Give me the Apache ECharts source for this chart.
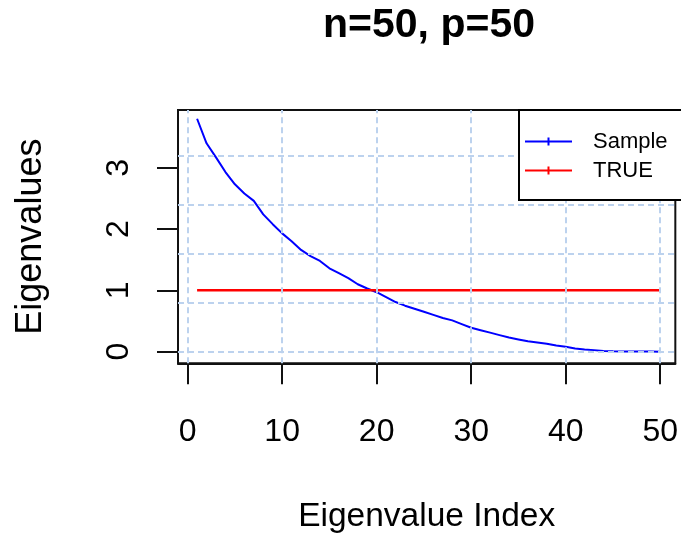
<!DOCTYPE html>
<html>
<head>
<meta charset="utf-8">
<script src="https://cdn.jsdelivr.net/npm/echarts@6/dist/echarts.min.js"></script>
<style>
  html, body { margin: 0; padding: 0; background: #fff; }
  #chart { width: 681px; height: 539px; }
</style>
</head>
<body>
<div id="chart"></div>
<script>
// ---- data ----
const indices = [1,2,3,4,5,6,7,8,9,10,11,12,13,14,15,16,17,18,19,20,21,22,23,24,25,26,27,28,29,30,31,32,33,34,35,36,37,38,39,40,41,42,43,44,45,46,47,48,49,50];
const sampleVals = [3.80,3.40,3.17,2.93,2.73,2.58,2.46,2.24,2.08,1.93,1.80,1.66,1.56,1.48,1.36,1.28,1.20,1.10,1.03,0.97,0.89,0.81,0.75,0.70,0.65,0.60,0.55,0.51,0.45,0.39,0.35,0.31,0.27,0.23,0.20,0.17,0.15,0.13,0.10,0.08,0.05,0.035,0.025,0.012,0.005,0.003,0.002,0.001,0.0005,0];
const trueVals = [1,1,1,1,1,1,1,1,1,1,1,1,1,1,1,1,1,1,1,1,1,1,1,1,1,1,1,1,1,1,1,1,1,1,1,1,1,1,1,1,1,1,1,1,1,1,1,1,1,1];
const xTicks = [0,10,20,30,40,50];
const yTicks = [0,1,2,3];
const gridX = [0,10,20,30,40,50];
const gridY = [0,0.8,1.6,2.4,3.2];
const seriesNames = ['Sample','TRUE'];
const titleText = 'n=50, p=50';
const xName = 'Eigenvalue Index';
const yName = 'Eigenvalues';

const FONT = '"Liberation Sans", Arial, sans-serif';
const legendIcon = 'path://M0,3H47V5H0Z M22.5,0H24.5V8H22.5Z';

const chart = echarts.init(document.getElementById('chart'));
const option = {
  animation: false,
  backgroundColor: '#fff',
  title: {
    text: titleText,
    left: 429,
    textAlign: 'center',
    top: 5,
    padding: 0,
    textStyle: { fontFamily: FONT, fontSize: 41, fontWeight: 'bold', color: '#000' }
  },
  grid: {
    left: 178, right: 1.7, top: 110, bottom: 175.7,
    show: true, borderColor: '#111', borderWidth: 2, backgroundColor: 'transparent'
  },
  legend: {
    orient: 'vertical',
    left: 519, top: 110,
    itemWidth: 47, itemHeight: 8, itemGap: 0,
    padding: [17, 60, 15, 6],
    borderColor: '#000', borderWidth: 2,
    backgroundColor: '#fff',
    z: 10,
    textStyle: { fontFamily: FONT, fontSize: 22, lineHeight: 29, color: '#000', padding: [0, 0, 0, 16] },
    data: [
      { name: seriesNames[0], icon: legendIcon },
      { name: seriesNames[1], icon: legendIcon }
    ]
  },
  xAxis: {
    type: 'value',
    min: -1.02, max: 51.6,
    name: xName,
    nameLocation: 'middle',
    nameGap: 136,
    nameTextStyle: { fontFamily: FONT, fontSize: 33.5, color: '#000', verticalAlign: 'top' },
    axisLine: { show: true, onZero: false, lineStyle: { color: '#111', width: 2 } },
    axisTick: { show: true, customValues: xTicks, length: 21, inside: false, lineStyle: { color: '#111', width: 2 } },
    axisLabel: { customValues: xTicks, fontFamily: FONT, fontSize: 32, color: '#000', margin: 53 },
    splitLine: { show: false }
  },
  yAxis: {
    type: 'value',
    min: -0.19, max: 3.943,
    name: yName,
    nameLocation: 'middle',
    nameGap: 129,
    nameTextStyle: { fontFamily: FONT, fontSize: 36, color: '#000' },
    axisLine: { show: true, onZero: false, lineStyle: { color: '#111', width: 2 } },
    axisTick: { show: true, customValues: yTicks, length: 21, inside: false, lineStyle: { color: '#111', width: 2 } },
    axisLabel: { customValues: yTicks, rotate: 90, fontFamily: FONT, fontSize: 32, color: '#000', margin: 43 },
    splitLine: { show: false }
  },
  series: [
    {
      name: 'grid',
      type: 'line',
      data: [],
      z: 1,
      silent: true,
      markLine: {
        silent: true,
        symbol: ['none', 'none'],
        label: { show: false },
        lineStyle: { color: '#bcd2ee', type: [6, 4], width: 2 },
        data: gridX.map(v => ({ xAxis: v })).concat(gridY.map(v => ({ yAxis: v })))
      }
    },
    {
      name: seriesNames[0],
      type: 'line',
      data: indices.map((x, i) => [x, sampleVals[i]]),
      showSymbol: false,
      z: 3,
      itemStyle: { color: '#0000ff' },
      lineStyle: { color: '#0000ff', width: 2 }
    },
    {
      name: seriesNames[1],
      type: 'line',
      data: indices.map((x, i) => [x, trueVals[i]]),
      showSymbol: false,
      z: 3,
      itemStyle: { color: '#ff0000' },
      lineStyle: { color: '#ff0000', width: 2.5 }
    }
  ]
};
chart.setOption(option);
</script>
</body>
</html>
